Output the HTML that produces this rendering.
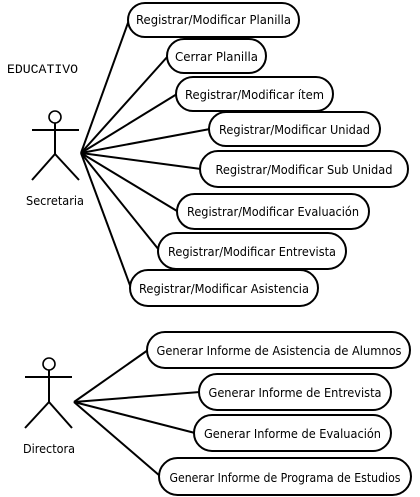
<!DOCTYPE html>
<html><head><meta charset="utf-8"><style>
html,body{margin:0;padding:0;background:#fff;}
svg{display:block;}
text{font-family:"DejaVu Sans","Liberation Sans",sans-serif;font-size:12px;fill:#000;}
.m{font-family:"Liberation Mono",monospace;font-size:13px;}
</style></head><body>
<svg width="420" height="497" viewBox="0 0 420 497" xmlns="http://www.w3.org/2000/svg">
<g stroke="#000" stroke-width="2" fill="none">
<circle cx="55" cy="117" r="6" stroke-width="1.6"/>
<line x1="32" y1="130" x2="79" y2="130"/>
<line x1="55" y1="123" x2="55" y2="154"/>
<line x1="55" y1="154" x2="32" y2="180"/>
<line x1="55" y1="154" x2="79" y2="180"/>
<circle cx="49" cy="364" r="6" stroke-width="1.6"/>
<line x1="25" y1="377" x2="72" y2="377"/>
<line x1="49" y1="370" x2="49" y2="402"/>
<line x1="49" y1="402" x2="25" y2="428"/>
<line x1="49" y1="402" x2="72" y2="428"/>
<line x1="81" y1="153" x2="129" y2="20"/>
<line x1="81" y1="153" x2="168" y2="56"/>
<line x1="81" y1="153" x2="177" y2="94"/>
<line x1="81" y1="153" x2="210" y2="129"/>
<line x1="81" y1="153" x2="201" y2="169"/>
<line x1="81" y1="153" x2="177" y2="211"/>
<line x1="81" y1="153" x2="159" y2="250"/>
<line x1="81" y1="153" x2="131" y2="288"/>
<line x1="74" y1="402" x2="148" y2="350"/>
<line x1="74" y1="402" x2="200" y2="392"/>
<line x1="74" y1="402" x2="195" y2="433"/>
<line x1="74" y1="402" x2="160" y2="476"/>
</g>
<g stroke="#000" stroke-width="2" fill="#fff">
<rect x="128" y="3" width="171" height="34" rx="17"/>
<rect x="167" y="39" width="99" height="34" rx="17"/>
<rect x="176" y="77" width="157" height="34" rx="17"/>
<rect x="209" y="112" width="171" height="34" rx="17"/>
<rect x="200" y="151" width="208" height="36" rx="18"/>
<rect x="177" y="194" width="192" height="35" rx="17.5"/>
<rect x="158" y="233" width="188" height="36" rx="18"/>
<rect x="130" y="270" width="188" height="36" rx="18"/>
<rect x="147" y="332" width="263" height="36" rx="18"/>
<rect x="199" y="374" width="192" height="36" rx="18"/>
<rect x="194" y="415" width="197" height="36" rx="18"/>
<rect x="159" y="458" width="252" height="37" rx="18.5"/>
</g>
<g text-anchor="middle">
<text x="213.5" y="24" textLength="155" lengthAdjust="spacingAndGlyphs">Registrar/Modificar Planilla</text>
<text x="216.5" y="61" textLength="83" lengthAdjust="spacingAndGlyphs">Cerrar Planilla</text>
<text x="254.5" y="99" textLength="139" lengthAdjust="spacingAndGlyphs">Registrar/Modificar ítem</text>
<text x="294.5" y="134" textLength="151" lengthAdjust="spacingAndGlyphs">Registrar/Modificar Unidad</text>
<text x="304" y="174" textLength="177" lengthAdjust="spacingAndGlyphs">Registrar/Modificar Sub Unidad</text>
<text x="273" y="216" textLength="172" lengthAdjust="spacingAndGlyphs">Registrar/Modificar Evaluación</text>
<text x="252" y="256" textLength="168" lengthAdjust="spacingAndGlyphs">Registrar/Modificar Entrevista</text>
<text x="224" y="293" textLength="170" lengthAdjust="spacingAndGlyphs">Registrar/Modificar Asistencia</text>
<text x="279" y="355" textLength="245" lengthAdjust="spacingAndGlyphs">Generar Informe de Asistencia de Alumnos</text>
<text x="295" y="397" textLength="173" lengthAdjust="spacingAndGlyphs">Generar Informe de Entrevista</text>
<text x="292.5" y="438" textLength="177" lengthAdjust="spacingAndGlyphs">Generar Informe de Evaluación</text>
<text x="285" y="482" textLength="231" lengthAdjust="spacingAndGlyphs">Generar Informe de Programa de Estudios</text>
<text x="55" y="205" textLength="58" lengthAdjust="spacingAndGlyphs">Secretaria</text>
<text x="49" y="453" textLength="52" lengthAdjust="spacingAndGlyphs">Directora</text>
</g>
<text class="m" x="7" y="73" textLength="71" lengthAdjust="spacingAndGlyphs">EDUCATIVO</text>
</svg>
</body></html>
